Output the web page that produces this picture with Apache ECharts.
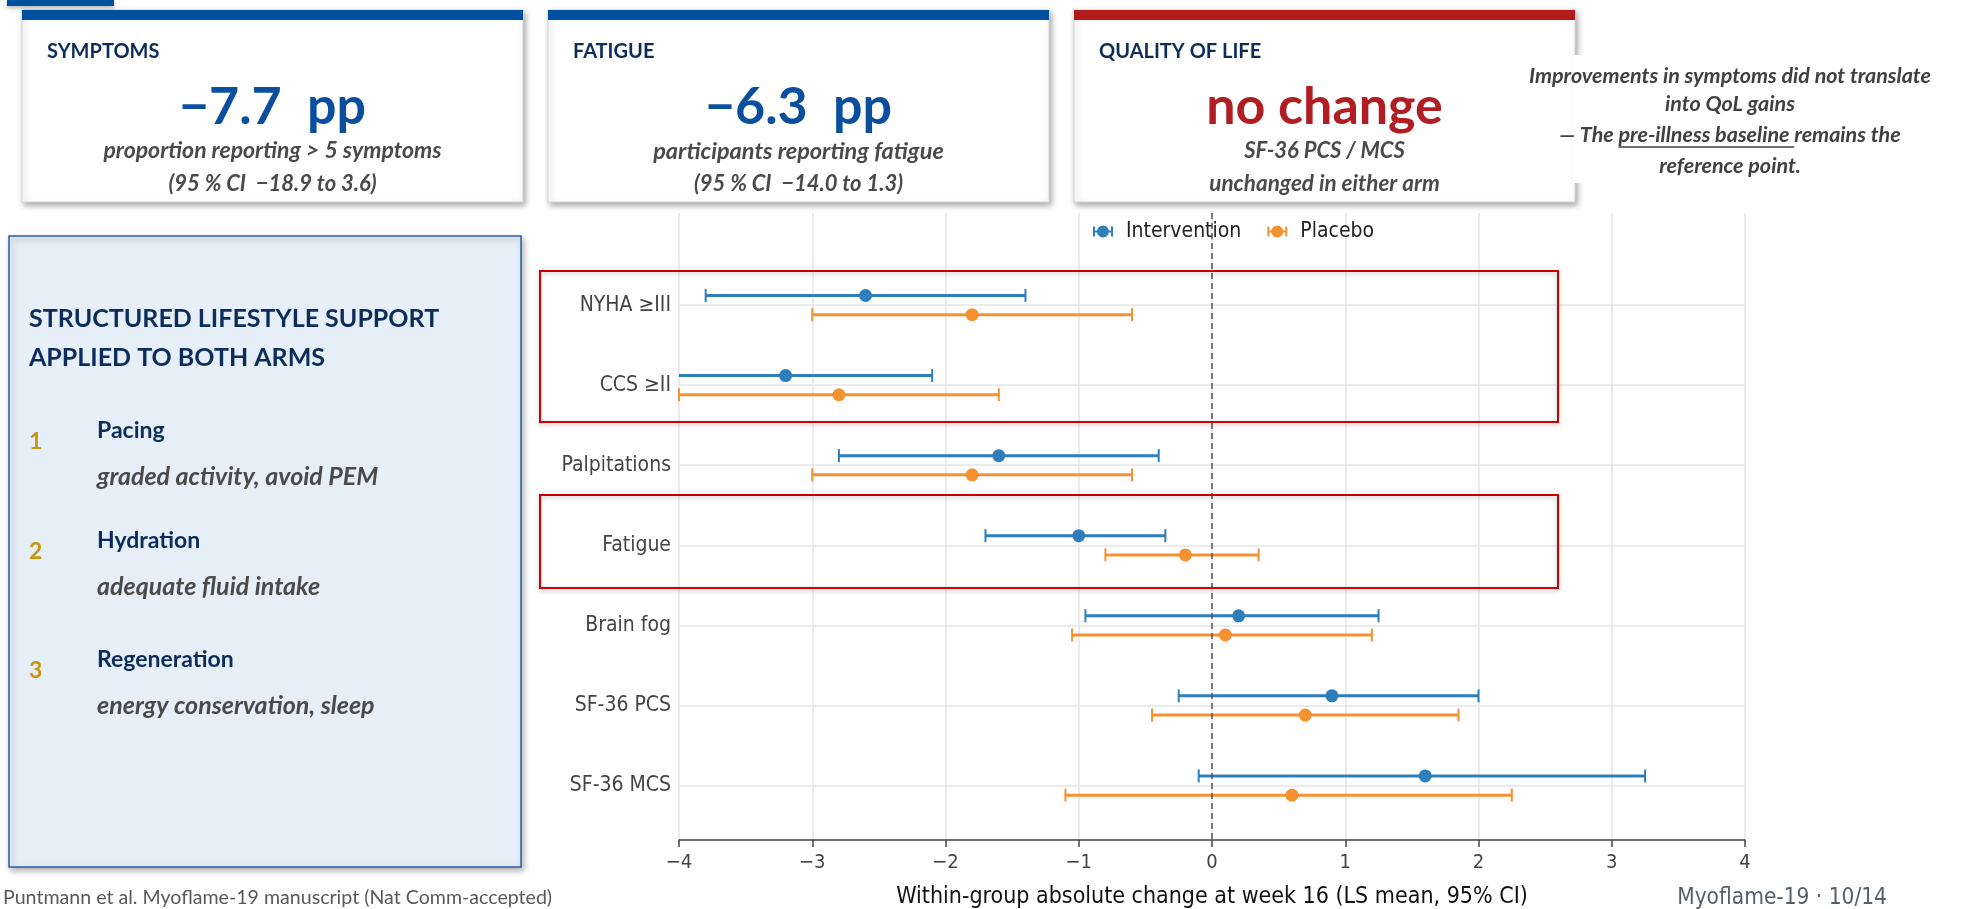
<!DOCTYPE html>
<html>
<head>
<meta charset="utf-8">
<script src="https://cdn.jsdelivr.net/npm/echarts@6/dist/echarts.min.js"></script>
<style>
html,body{margin:0;padding:0;background:#fff;}
#chart{width:1986px;height:909px;}
</style>
</head>
<body>
<div id="chart"></div>
<script>
// ---- data ----
const categories = ['NYHA ≥III', 'CCS ≥II', 'Palpitations', 'Fatigue', 'Brain fog', 'SF-36 PCS', 'SF-36 MCS'];
const intMean = [-2.6, -3.2, -1.6, -1.0, 0.2, 0.9, 1.6];
const intLow  = [-3.8, -4.3, -2.8, -1.7, -0.95, -0.25, -0.1];
const intHigh = [-1.4, -2.1, -0.4, -0.35, 1.25, 2.0, 3.25];
const plaMean = [-1.8, -2.8, -1.8, -0.2, 0.1, 0.7, 0.6];
const plaLow  = [-3.0, -4.0, -3.0, -0.8, -1.05, -0.45, -1.1];
const plaHigh = [-0.6, -1.6, -0.6, 0.35, 1.2, 1.85, 2.25];
const seriesNames = ['Intervention', 'Placebo'];
const xMin = -4, xMax = 4, xStep = 1;
const refValue = 0;

const BLUE = '#2f7ebc', ORANGE = '#f5922f';
const NAVY = '#0c2d5c', GREY_TXT = '#4a4a4a';
const CHART_FONT = '"DejaVu Sans Condensed", "DejaVu Sans", sans-serif';
const SLIDE_FONT = 'Lato, "Open Sans", sans-serif';

const chart = echarts.init(document.getElementById('chart'), null, {renderer: 'canvas'});

function rows(lo, m, hi) { return categories.map((c, i) => [i, lo[i], m[i], hi[i]]); }

function makeRender(offset, color) {
  return function (params, api) {
    const i = api.value(0), lo = api.value(1), m = api.value(2), hi = api.value(3);
    const cs = params.coordSys;
    const left = cs.x, right = cs.x + cs.width;
    const y = api.coord([m, i + offset])[1];
    let xl = api.coord([lo, i])[0], xh = api.coord([hi, i])[0];
    const xm = api.coord([m, i])[0];
    const loIn = xl >= left - 0.5, hiIn = xh <= right + 0.5;
    xl = Math.max(xl, left); xh = Math.min(xh, right);
    const ch = [];
    ch.push({type: 'line', shape: {x1: xl, y1: y, x2: xh, y2: y}, style: {stroke: color, lineWidth: 3}});
    if (loIn) ch.push({type: 'line', shape: {x1: xl, y1: y - 6.5, x2: xl, y2: y + 6.5}, style: {stroke: color, lineWidth: 2}});
    if (hiIn) ch.push({type: 'line', shape: {x1: xh, y1: y - 6.5, x2: xh, y2: y + 6.5}, style: {stroke: color, lineWidth: 2}});
    ch.push({type: 'circle', shape: {cx: xm, cy: y, r: 6.5}, style: {fill: color}});
    return {type: 'group', children: ch};
  };
}

const legendIcon = 'path://M0,3h2v10h-2z M18,3h2v10h-2z M0,7h20v2h-20z M10,2 A6,6 0 1,1 9.99,2 Z';

// ---- slide decorations (graphic) ----
const g = [];
function txt(x, y, text, o) {
  g.push({type: 'text', x: x, y: y, z: 100, style: Object.assign({
    text: text, fill: GREY_TXT, fontFamily: SLIDE_FONT, fontSize: 20, fontWeight: 'bold',
    align: 'left', verticalAlign: 'middle'}, o || {})});
}
// small top-left bar
g.push({type: 'rect', shape: {x: 7, y: 0, width: 107, height: 6}, z: 99,
  style: {fill: '#00509e', shadowBlur: 4, shadowColor: 'rgba(0,0,0,0.3)', shadowOffsetY: 2}});
// cards
const cards = [
  {x: 22, w: 501, bar: '#00509e', head: 'SYMPTOMS', big: '−7.7  pp', bigColor: '#0a4f9e',
   l1: 'proportion reporting > 5 symptoms', l2: '(95 % CI  −18.9 to 3.6)', s1: 23, s2: 22},
  {x: 548, w: 501, bar: '#00509e', head: 'FATIGUE', big: '−6.3  pp', bigColor: '#0a4f9e',
   l1: 'participants reporting fatigue', l2: '(95 % CI  −14.0 to 1.3)', s1: 23.5, s2: 22},
  {x: 1074, w: 501, bar: '#b31b1b', head: 'QUALITY OF LIFE', big: 'no change', bigColor: '#b01e23',
   l1: 'SF-36 PCS / MCS', l2: 'unchanged in either arm', s1: 22, s2: 22.5}
];
cards.forEach(c => {
  g.push({type: 'rect', shape: {x: c.x, y: 10, width: c.w, height: 192}, z: 98,
    style: {fill: '#fff', stroke: '#d6d6d6', lineWidth: 1, shadowBlur: 6, shadowColor: 'rgba(0,0,0,0.35)', shadowOffsetX: 2, shadowOffsetY: 3}});
  g.push({type: 'rect', shape: {x: c.x, y: 10, width: c.w, height: 10}, z: 99, style: {fill: c.bar}});
  const cx = c.x + c.w / 2;
  txt(c.x + 25, 52, c.head, {fill: NAVY, fontSize: 20});
  txt(cx, 107, c.big, {fill: c.bigColor, fontSize: 52, align: 'center'});
  txt(cx, 151, c.l1, {fontStyle: 'italic', align: 'center', fontSize: c.s1});
  txt(cx, 184, c.l2, {fontStyle: 'italic', align: 'center', fontSize: c.s2});
});
// right annotation
g.push({type: 'rect', shape: {x: 1573, y: 55, width: 413, height: 128}, z: 99, style: {fill: '#fff'}});
const annoX = 1730;
const annoFont = 21.5;
const annoLines = ['Improvements in symptoms did not translate', 'into QoL gains', '— The pre-illness baseline remains the', 'reference point.'];
const annoY = [76, 104, 135, 166];
annoLines.forEach((t, k) => txt(annoX, annoY[k], t, {fontStyle: 'italic', align: 'center', fill: '#404040', fontSize: annoFont}));
(function underline() {
  const cv = document.createElement('canvas').getContext('2d');
  cv.font = 'italic bold ' + annoFont + 'px Lato';
  const full = cv.measureText(annoLines[2]).width;
  const pre = cv.measureText('— The ').width;
  const seg = cv.measureText('pre-illness baseline ').width;
  const x0 = annoX - full / 2 + pre;
  g.push({type: 'line', z: 101, shape: {x1: x0, y1: 147, x2: x0 + seg, y2: 147}, style: {stroke: '#404040', lineWidth: 1.5}});
})();
// left panel
g.push({type: 'rect', shape: {x: 9, y: 236, width: 512, height: 631}, z: 98,
  style: {fill: '#e6eef8', stroke: '#2b5ea7', lineWidth: 1.5, shadowBlur: 6, shadowColor: 'rgba(0,0,0,0.3)', shadowOffsetX: 2, shadowOffsetY: 3}});
txt(29, 319, 'STRUCTURED LIFESTYLE SUPPORT', {fill: NAVY, fontSize: 25});
txt(29, 358, 'APPLIED TO BOTH ARMS', {fill: NAVY, fontSize: 25});
const items = [
  {n: '1', h: 'Pacing', s: 'graded activity, avoid PEM', y: 431},
  {n: '2', h: 'Hydration', s: 'adequate fluid intake', y: 541},
  {n: '3', h: 'Regeneration', s: 'energy conservation, sleep', y: 660}
];
items.forEach(it => {
  txt(29, it.y + 11, it.n, {fill: '#c9960c', fontSize: 23});
  txt(97, it.y, it.h, {fill: NAVY, fontSize: 23});
  txt(97, it.y + 46, it.s, {fontStyle: 'italic', fontSize: 25, fill: '#4a4a4a'});
});
// footers
txt(3, 898, 'Puntmann et al. Myoflame-19 manuscript (Nat Comm-accepted)', {fontWeight: 'normal', fontSize: 19.6, fill: '#595959'});
txt(1887, 898, 'Myoflame-19 · 10/14', {fontWeight: 'normal', fontSize: 22.5, fill: '#555e6b', align: 'right', fontFamily: CHART_FONT});
// red highlight boxes
g.push({type: 'rect', shape: {x: 540, y: 271, width: 1018, height: 151}, z: 97,
  style: {fill: 'none', stroke: '#cc0000', lineWidth: 2, shadowBlur: 4, shadowColor: 'rgba(0,0,0,0.25)', shadowOffsetY: 2}});
g.push({type: 'rect', shape: {x: 540, y: 495, width: 1018, height: 93}, z: 97,
  style: {fill: 'none', stroke: '#cc0000', lineWidth: 2, shadowBlur: 4, shadowColor: 'rgba(0,0,0,0.25)', shadowOffsetY: 2}});

const option = {
  backgroundColor: '#fff',
  animation: false,
  color: [BLUE, ORANGE],
  grid: {left: 679, right: 241, top: 213, bottom: 69, containLabel: false, outerBoundsMode: 'none'},
  legend: {
    data: [{name: seriesNames[0], icon: legendIcon}, {name: seriesNames[1], icon: legendIcon}],
    left: 1088, top: 216, itemWidth: 20, itemHeight: 14, itemGap: 26,
    textStyle: {fontFamily: CHART_FONT, fontSize: 21, color: '#222', padding: [0, 0, 0, 8]}
  },
  xAxis: {
    type: 'value', min: xMin, max: xMax, interval: xStep,
    name: 'Within-group absolute change at week 16 (LS mean, 95% CI)',
    nameLocation: 'middle', nameGap: 46,
    nameTextStyle: {fontFamily: CHART_FONT, fontSize: 23, color: '#111'},
    axisLine: {show: true, onZero: false, lineStyle: {color: '#444', width: 1.5}},
    axisTick: {show: true, length: 7, lineStyle: {color: '#444', width: 1.5}},
    axisLabel: {fontFamily: CHART_FONT, fontSize: 20, color: '#444', margin: 13,
      formatter: v => String(v).replace('-', '−')},
    splitLine: {show: true, lineStyle: {color: '#e5e5e5', width: 1.5}}
  },
  yAxis: {
    type: 'value', min: -1.15, max: 6.68, inverse: true,
    axisLine: {show: false}, axisTick: {show: false},
    splitLine: {show: false},
    axisLabel: {show: true, customValues: categories.map((c, i) => i),
      formatter: v => categories[Math.round(v)] || '',
      fontFamily: CHART_FONT, fontSize: 21, color: '#444', margin: 8}
  },
  series: [
    {type: 'scatter', name: '_grid', data: [], z: 1, silent: true,
     markLine: {silent: true, symbol: ['none', 'none'], label: {show: false}, z: 1,
       lineStyle: {color: '#e5e5e5', width: 1.5, type: 'solid'},
       data: categories.map((c, i) => ({yAxis: i}))}},
    {type: 'custom', name: seriesNames[0], itemStyle: {color: BLUE}, z: 3,
     data: rows(intLow, intMean, intHigh), renderItem: makeRender(-0.12, BLUE),
     encode: {x: [1, 2, 3], y: 0}},
    {type: 'custom', name: seriesNames[1], itemStyle: {color: ORANGE}, z: 3,
     data: rows(plaLow, plaMean, plaHigh), renderItem: makeRender(0.12, ORANGE),
     encode: {x: [1, 2, 3], y: 0}},
    {type: 'scatter', name: '_ref', data: [], z: 5, silent: true,
     markLine: {silent: true, symbol: ['none', 'none'], label: {show: false}, z: 5,
       lineStyle: {color: '#555', width: 1.5, type: [6, 4]},
       data: [{xAxis: refValue}]}}
  ],
  graphic: {elements: g}
};
chart.setOption(option);
</script>
</body>
</html>
